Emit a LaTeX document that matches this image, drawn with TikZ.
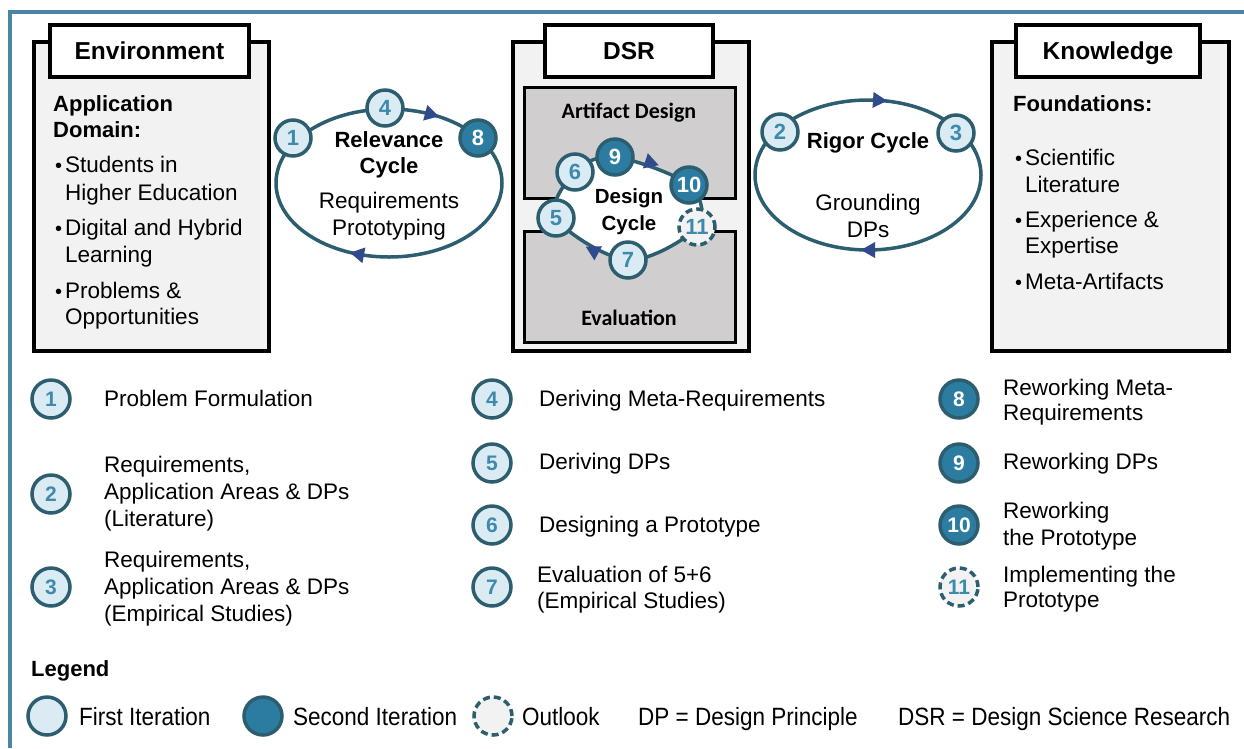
\documentclass[tikz,border=0pt]{standalone}
\usepackage{fontspec}
\setmainfont{Liberation Sans}
\newfontfamily\calfont{Carlito}
\newfontfamily\narrowfont{Liberation Sans}[FakeStretch=0.9]
\definecolor{framec}{HTML}{4A86A3}
\definecolor{cyc}{HTML}{2C5E70}
\definecolor{firstfill}{HTML}{DAEBF4}
\definecolor{numc}{HTML}{3F89AD}
\definecolor{secfill}{HTML}{2C7CA1}
\definecolor{arrc}{HTML}{2F4B8C}
\definecolor{panelc}{HTML}{F2F2F2}
\definecolor{innerfill}{HTML}{D0CECE}
\newcommand\myfs[2]{\fontsize{#1}{#2}\selectfont}
\newcommand\mybul{\makebox[10pt][l]{\myfs{20}{20}\textbullet}}
\newcommand\mytri[2]{\fill[arrc, shift={#1}, rotate=#2] (7pt,0pt) -- (-7pt,8pt) -- (-7pt,-8pt) -- cycle;}
\begin{document}
\begin{tikzpicture}[x=1pt,y=-1pt,
 txt/.style={inner sep=0pt, anchor=base west, font=\myfs{22.5}{27}},
 ctxt/.style={inner sep=0pt, anchor=base, font=\myfs{22.5}{27}},
 btxt/.style={inner sep=0pt, anchor=base west, font=\myfs{22}{27}\bfseries},
 cbtxt/.style={inner sep=0pt, anchor=base, font=\myfs{22}{27}\bfseries},
 ltxt/.style={inner sep=0pt, anchor=base west, font=\narrowfont\myfs{25}{27}},
 calbtxt/.style={inner sep=0pt, anchor=base, font=\calfont\myfs{22}{27}\bfseries},
 panelbox/.style={draw=black, line width=3.5pt, fill=panelc, anchor=north west, inner sep=0pt, minimum height=309pt},
 titlebox/.style={draw=black, line width=3.5pt, fill=white, inner sep=0pt, minimum height=52pt, font=\myfs{24.5}{28}\bfseries, text height=17.5pt, text depth=0pt},
 innerbox/.style={draw=black, line width=3pt, fill=innerfill, anchor=north west, inner sep=0pt, minimum width=211pt, minimum height=111pt},
 stepc/.style={circle, line width=3.5pt, draw=cyc, minimum size=36pt, inner sep=0pt, font=\myfs{22}{22}\bfseries},
 first/.style={stepc, fill=firstfill, text=numc},
 second/.style={stepc, fill=secfill, text=white},
 outlook/.style={stepc, fill=panelc, text=numc, dash pattern=on 7pt off 4pt},
 big/.style={minimum size=38pt, font=\myfs{21}{21}\bfseries},
 cycline/.style={draw=cyc, line width=3.5pt}
]
\useasboundingbox (0,0) rectangle (1244,748);
% outer frame
\coordinate (fbl) at (10,748);
\coordinate (ftl) at (10,11.5);
\coordinate (ftr) at (1244,11.5);
\draw[framec, line width=4pt] (fbl) -- (ftl) -- (ftr);

% ---------- Environment ----------
\node[panelbox, minimum width=235pt] (envbox) at (32,40) {};
\node[titlebox, minimum width=199pt] (envtitle) at (149.5,51) {Environment};
\node[btxt] (e1) at (53,111) {Application};
\node[btxt] (e2) at (53,137) {Domain:};
\node[txt] (e3) at (55,172) {\mybul Students in};
\node[txt] (e4) at (65,200) {Higher Education};
\node[txt] (e5) at (55,235) {\mybul Digital and Hybrid};
\node[txt] (e6) at (65,262) {Learning};
\node[txt] (e7) at (55,298) {\mybul Problems \&};
\node[txt] (e8) at (65,324) {Opportunities};

% ---------- DSR ----------
\node[panelbox, minimum width=236pt] (dsrbox) at (511,40) {};
\node[titlebox, minimum width=168pt] (dsrtitle) at (629,51) {DSR};
\node[innerbox] (artbox) at (523,86) {};
\node[innerbox] (evalbox) at (523,230) {};
\node[calbtxt] (arttxt) at (629,118) {Artifact Design};
\node[calbtxt] (evaltxt) at (629,325) {Evaluation};

% design cycle
\coordinate (p6) at (575,172);
\coordinate (p9) at (615,157);
\coordinate (p10) at (689,185);
\coordinate (p11) at (697,227);
\coordinate (p7) at (628,260);
\coordinate (p5) at (556,218);
\draw[cycline, fill=white] plot[smooth cycle, tension=0.55] coordinates {(p6) (p9) (p10) (p11) (p7) (p5)};
\mytri{(652,163)}{-18}
\mytri{(592,250)}{152}
\node[cbtxt, font=\myfs{20.5}{27}\bfseries] (dc1) at (629,203) {Design};
\node[cbtxt, font=\myfs{20.5}{27}\bfseries] (dc2) at (629,230) {Cycle};
\node[first] (d6) at (p6) {6};
\node[second] (d9) at (p9) {9};
\node[second] (d10) at (p10) {10};
\node[outlook] (d11) at (p11) {11};
\node[first] (d7) at (p7) {7};
\node[first] (d5) at (p5) {5};

% ---------- Relevance cycle ----------
\coordinate (relc) at (389,183);
\draw[cycline] (relc) ellipse [x radius=113pt, y radius=74pt];
\mytri{(432,114.6)}{-15}
\mytri{(357,254)}{169}
\node[cbtxt] (r1) at (389,147) {Relevance};
\node[cbtxt] (r2) at (389,173) {Cycle};
\node[ctxt] (r3) at (389,208) {Requirements};
\node[ctxt] (r4) at (389,235) {Prototyping};
\node[first] (c1) at (293,138) {1};
\node[first] (c4) at (385,108) {4};
\node[second] (c8) at (478,138) {8};

% ---------- Rigor cycle ----------
\coordinate (rigc) at (868,175);
\draw[cycline] (rigc) ellipse [x radius=113pt, y radius=75pt];
\mytri{(880,100.4)}{-4}
\mytri{(868,250)}{180}
\node[cbtxt] (g1) at (868,148) {Rigor Cycle};
\node[ctxt] (g2) at (868,210) {Grounding};
\node[ctxt] (g3) at (868,237) {DPs};
\node[first] (c2) at (780,132) {2};
\node[first] (c3) at (956,133) {3};

% ---------- Knowledge ----------
\node[panelbox, minimum width=237pt] (knowbox) at (990,40) {};
\node[titlebox, minimum width=184pt] (knowtitle) at (1108,51) {Knowledge};
\node[btxt] (k1) at (1013,111) {Foundations:};
\node[txt] (k2) at (1015,165) {\mybul Scientific};
\node[txt] (k3) at (1025,192) {Literature};
\node[txt] (k4) at (1015,227) {\mybul Experience \&};
\node[txt] (k5) at (1025,253) {Expertise};
\node[txt] (k6) at (1015,289) {\mybul Meta-Artifacts};

% ---------- List column 1 ----------
\node[first, big] (l1) at (51,399) {1};
\node[first, big] (l2) at (51,494) {2};
\node[first, big] (l3) at (51,587) {3};
\node[txt] (l1a) at (104,406) {Problem Formulation};
\node[txt] (l2a) at (104,472) {Requirements,};
\node[txt] (l2b) at (104,499) {Application Areas \& DPs};
\node[txt] (l2c) at (104,526) {(Literature)};
\node[txt] (l3a) at (104,567) {Requirements,};
\node[txt] (l3b) at (104,594) {Application Areas \& DPs};
\node[txt] (l3c) at (104,621) {(Empirical Studies)};

% ---------- List column 2 ----------
\node[first, big] (l4) at (492,399) {4};
\node[first, big] (l5) at (492,463) {5};
\node[first, big] (l6) at (492,525) {6};
\node[first, big] (l7) at (492,587) {7};
\node[txt] (l4a) at (539,406) {Deriving Meta-Requirements};
\node[txt] (l5a) at (539,469) {Deriving DPs};
\node[txt] (l6a) at (539,532) {Designing a Prototype};
\node[txt] (l7a) at (537,582) {Evaluation of 5+6};
\node[txt] (l7b) at (537,608) {(Empirical Studies)};

% ---------- List column 3 ----------
\node[second, big] (l8) at (959,399) {8};
\node[second, big] (l9) at (959,463) {9};
\node[second, big] (l10) at (959,525) {10};
\node[outlook, big] (l11) at (959,587) {11};
\node[txt] (l8a) at (1003,395) {Reworking Meta-};
\node[txt] (l8b) at (1003,420) {Requirements};
\node[txt] (l9a) at (1003,469) {Reworking DPs};
\node[txt] (l10a) at (1003,518) {Reworking};
\node[txt] (l10b) at (1003,545) {the Prototype};
\node[txt] (l11a) at (1003,582) {Implementing the};
\node[txt] (l11b) at (1003,607) {Prototype};

% ---------- Legend ----------
\node[btxt] (leg) at (31,676) {Legend};
\node[first, big] (lg1) at (47,716) {};
\node[second, big] (lg2) at (263,716) {};
\node[outlook, big] (lg3) at (493,716) {};
\node[ltxt] (lt1) at (79,725) {First Iteration};
\node[ltxt] (lt2) at (293,725) {Second Iteration};
\node[ltxt] (lt3) at (522,725) {Outlook};
\node[ltxt] (lt4) at (638,725) {DP = Design Principle};
\node[ltxt] (lt5) at (898,725) {DSR = Design Science Research};
\end{tikzpicture}
\end{document}
